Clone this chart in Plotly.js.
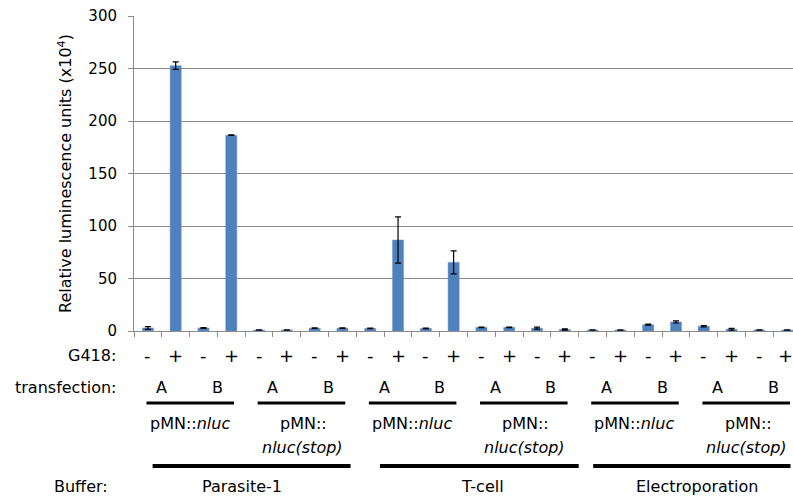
<!DOCTYPE html>
<html>
<head>
<meta charset="utf-8">
<script src="https://cdn.plot.ly/plotly-3.0.1.min.js"></script>
<style>html,body{margin:0;padding:0;background:#fff;}#chart{width:793px;height:497px;}</style>
</head>
<body>
<div id="chart"></div>
<script>
// ---- data ----
const buffers = ['Parasite-1', 'T-cell', 'Electroporation'];
const constructs = ['pMN::nluc', 'pMN::nluc(stop)'];
const transfections = ['A', 'B'];
const g418 = ['-', '+'];
const values = [2.9, 252.7, 2.9, 186.5, 1.0, 1.0, 2.7, 2.7,
                2.5, 86.7, 2.5, 65.4, 3.5, 3.5, 2.7, 1.4,
                1.0, 1.0, 6.0, 8.6, 4.5, 1.7, 1.0, 1.0];
const errors = [1.3, 3.6, 0.4, 0.3, 0.2, 0.2, 0.3, 0.3,
                0.3, 22, 0.3, 11, 0.3, 0.3, 1.0, 0.6,
                0.2, 0.2, 0.5, 1.0, 0.7, 0.8, 0.2, 0.2];
const yTicks = [0, 50, 100, 150, 200, 250, 300];

// categories built from the factors
const cats = [], g418Labels = [];
buffers.forEach(b => constructs.forEach(c => transfections.forEach(t => g418.forEach(g => {
  cats.push(b + ' | ' + c + ' | ' + t + ' | ' + g);
  g418Labels.push(g);
}))));

const FONT = 'DejaVu Sans';
const W = 793, H = 497, ML = 134;
const PLOT_TOP = 16, PLOT_BOTTOM = 331;
const py = p => (PLOT_BOTTOM - p) / (PLOT_BOTTOM - PLOT_TOP);
const px = p => (p - ML) / (W - ML);

const annotations = [];
const shapes = [];
function txt(x, xref, y, text, opts) {
  annotations.push(Object.assign({
    x: xref === 'paper' ? px(x) : x, xref: xref, y: py(y), yref: 'paper', text: text, showarrow: false,
    font: {family: FONT, size: 16, color: '#000'}, xanchor: 'center', yanchor: 'middle'
  }, opts || {}));
}
// row labels
txt(118, 'paper', 355, 'G418:', {xanchor: 'right'});
txt(118, 'paper', 387, 'transfection:', {xanchor: 'right'});
txt(110, 'paper', 486, 'Buffer:', {xanchor: 'right'});

// G418 row
g418Labels.forEach((g, i) => txt(i === 23 ? 22.93 : i, 'x', 355, g, {font: {family: FONT, size: 18, color: '#000'}}));

// transfection, construct and buffer rows
const bufferCenters = [3.4, 12.05, 19.75];
buffers.forEach((b, bi) => {
  constructs.forEach((c, ci) => {
    const g0 = bi * 8 + ci * 4;
    transfections.forEach((t, ti) => txt(g0 + 0.5 + ti * 2, 'x', 387, t));
    shapes.push({type: 'line', xref: 'x', yref: 'paper', x0: g0 - 0.05, x1: g0 + 3.1,
      y0: py(403), y1: py(403), line: {color: '#000', width: 3}});
    if (c.indexOf('(stop)') >= 0) {
      txt(g0 + 1.6, 'x', 423, 'pMN::');
      txt(g0 + 1.55, 'x', 447, '<i>nluc(stop)</i>');
    } else {
      txt(g0 + 1.5, 'x', 423, 'pMN::<i>nluc</i>');
    }
  });
  const x0 = [0.17, 8.35, 16.02][bi], x1 = [7.29, 15.5, 23.12][bi];
  shapes.push({type: 'line', xref: 'x', yref: 'paper', x0: x0, x1: x1,
    y0: py(466), y1: py(466), line: {color: '#000', width: 4}});
  txt(bufferCenters[bi], 'x', 486, b);
});

const trace = {
  type: 'bar', x: cats, y: values,
  marker: {color: '#4F81BD', line: {color: '#6C97CC', width: 0.5}},
  error_y: {type: 'data', array: errors, visible: true, color: '#000', thickness: 1.2, width: 3},
  hoverinfo: 'y'
};

const layout = {
  width: W, height: H,
  margin: {l: ML, r: 0, t: PLOT_TOP, b: H - PLOT_BOTTOM},
  paper_bgcolor: '#fff', plot_bgcolor: '#fff',
  showlegend: false,
  bargap: 0.6,
  font: {family: FONT, color: '#000'},
  xaxis: {
    type: 'category', range: [-0.5, 23.21], showticklabels: false,
    showline: true, linecolor: '#8C8C8C', linewidth: 1,
    ticks: 'outside', tickson: 'boundaries', ticklen: 5, tickcolor: '#8C8C8C',
    showgrid: false, zeroline: false, fixedrange: true
  },
  yaxis: {
    range: [0, 300], tickvals: yTicks, ticktext: yTicks.map(String),
    showline: true, linecolor: '#8C8C8C', linewidth: 1,
    ticks: 'outside', ticklen: 5, tickcolor: '#8C8C8C', ticklabelstandoff: 8,
    showgrid: true, gridcolor: '#8C8C8C', gridwidth: 1, zeroline: false,
    tickfont: {family: FONT, size: 15, color: '#000'},
    title: {text: 'Relative luminescence units (x10<sup>4</sup>)',
            font: {family: FONT, size: 16, color: '#000'}, standoff: 12},
    fixedrange: true
  },
  annotations: annotations,
  shapes: shapes
};

Plotly.newPlot('chart', [trace], layout, {displayModeBar: false, staticPlot: true});
</script>
</body>
</html>
